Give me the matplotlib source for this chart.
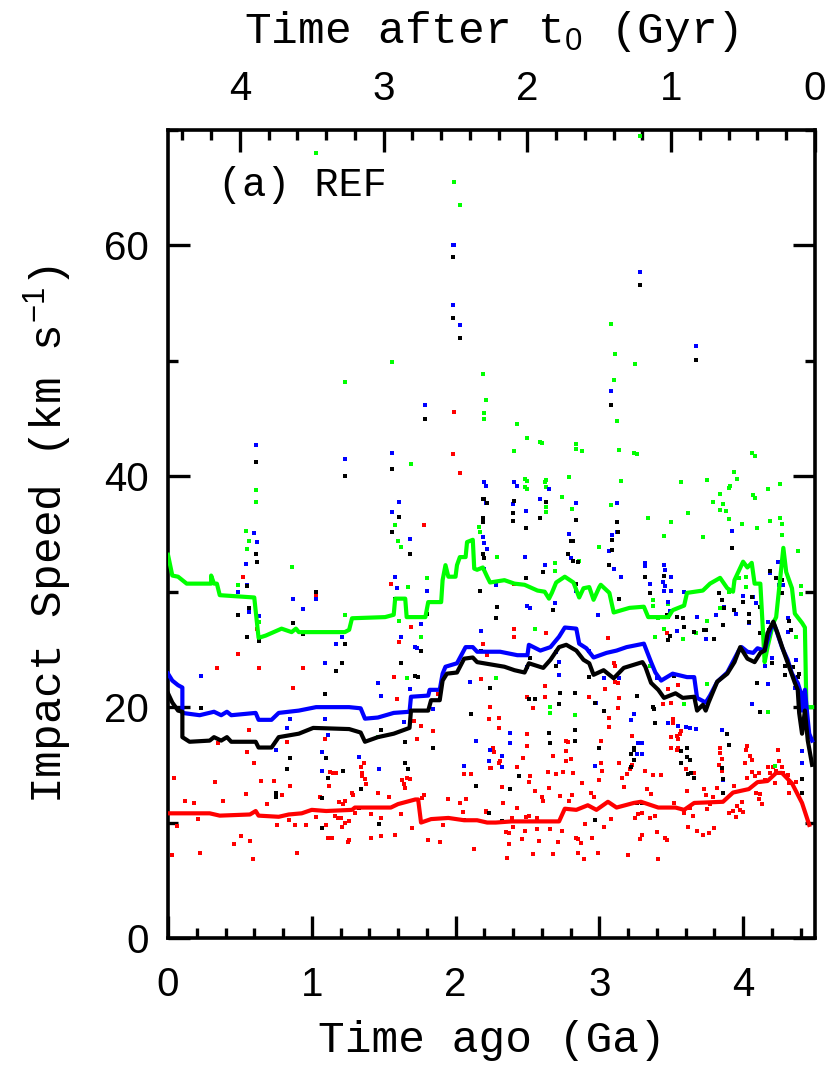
import matplotlib
matplotlib.use('Agg')
import matplotlib.pyplot as plt
from matplotlib import font_manager as fm
from matplotlib.ticker import FixedLocator, MultipleLocator


def pick_font(names):
    for name in names:
        try:
            fm.findfont(fm.FontProperties(family=name), fallback_to_default=False)
            return name
        except ValueError:
            pass
    return 'DejaVu Sans'


label_font = pick_font(['Liberation Mono', 'DejaVu Sans Mono'])
num_font = pick_font(['Liberation Sans Narrow', 'Liberation Sans', 'DejaVu Sans'])

plt.rcParams['font.family'] = [label_font, 'DejaVu Sans']
plt.rcParams['mathtext.fontset'] = 'custom'
plt.rcParams['mathtext.rm'] = num_font
plt.rcParams['mathtext.it'] = num_font

x_ticks = [0, 1, 2, 3, 4]
top_ticks = [0, 1, 2, 3, 4]
y_ticks = [0, 20, 40, 60]

# running medians (time ago in Ga, speed in km/s)
green_line = [(0.00, 33.2), (0.03, 31.4), (0.07, 31.3), (0.13, 30.7), (0.30, 30.7), (0.30, 31.4),
              (0.32, 30.7), (0.34, 30.7), (0.36, 29.7), (0.60, 29.5), (0.63, 26.0), (0.68, 26.2),
              (0.79, 26.8), (0.86, 26.5), (0.89, 26.8), (0.91, 26.5), (1.23, 26.5), (1.26, 26.7),
              (1.28, 27.7), (1.51, 27.8), (1.57, 28.0), (1.58, 29.4), (1.65, 29.4), (1.66, 27.8),
              (1.79, 27.8), (1.81, 29.1), (1.90, 29.1), (1.91, 31.0), (1.93, 32.3), (1.95, 31.3),
              (2.00, 31.3), (2.01, 32.3), (2.03, 33.0), (2.07, 33.0), (2.08, 34.3), (2.12, 34.5),
              (2.13, 32.0), (2.15, 31.9), (2.19, 32.1), (2.22, 31.3), (2.24, 30.8), (2.34, 31.0),
              (2.41, 30.7), (2.48, 30.6), (2.57, 30.1), (2.62, 30.0), (2.65, 29.4), (2.67, 29.9),
              (2.70, 30.8), (2.76, 31.3), (2.82, 30.8), (2.86, 29.5), (2.89, 30.3), (2.93, 30.4),
              (2.96, 29.3), (3.00, 30.4), (3.01, 30.6), (3.07, 29.9), (3.10, 28.2), (3.21, 28.6),
              (3.31, 28.7), (3.34, 27.8), (3.48, 27.8), (3.51, 28.4), (3.59, 28.8), (3.61, 29.9),
              (3.72, 30.1), (3.77, 30.7), (3.84, 31.2), (3.89, 30.3), (3.93, 30.0), (3.94, 31.0),
              (4.00, 32.6), (4.03, 32.1), (4.06, 32.5), (4.08, 30.7), (4.12, 30.7), (4.15, 23.9),
              (4.17, 25.2), (4.21, 27.3), (4.23, 27.8), (4.28, 33.8), (4.30, 31.7), (4.34, 30.3),
              (4.36, 28.1), (4.41, 27.3), (4.43, 26.9), (4.44, 20.0), (4.48, 20.0)]

blue_line = [(0.00, 22.9), (0.03, 22.3), (0.07, 21.9), (0.10, 21.7), (0.10, 19.5), (0.22, 19.3),
             (0.32, 19.6), (0.37, 19.3), (0.41, 19.6), (0.44, 19.3), (0.61, 19.5), (0.63, 18.9),
             (0.72, 18.9), (0.77, 19.5), (0.91, 19.7), (1.03, 20.0), (1.26, 20.0), (1.34, 19.9),
             (1.37, 19.0), (1.46, 19.1), (1.57, 19.5), (1.68, 19.6), (1.69, 20.9), (1.81, 21.0),
             (1.82, 21.5), (1.89, 21.5), (1.91, 22.9), (1.93, 23.5), (2.01, 23.8), (2.07, 25.2),
             (2.12, 25.2), (2.15, 24.8), (2.31, 24.8), (2.43, 24.5), (2.50, 24.5), (2.51, 25.4),
             (2.59, 24.9), (2.66, 25.2), (2.72, 26.1), (2.76, 26.9), (2.84, 26.8), (2.86, 25.5),
             (2.91, 25.1), (2.96, 24.3), (3.05, 24.7), (3.12, 24.9), (3.19, 25.2), (3.31, 25.5),
             (3.36, 23.9), (3.39, 23.0), (3.43, 22.3), (3.51, 22.9), (3.61, 22.6), (3.66, 22.6),
             (3.68, 20.8), (3.74, 20.4), (3.77, 21.0), (3.82, 22.2), (3.89, 23.0), (3.97, 24.9),
             (3.99, 25.2), (4.03, 24.8), (4.07, 24.7), (4.10, 25.1), (4.15, 24.9), (4.19, 26.7),
             (4.21, 27.3), (4.23, 26.7), (4.27, 25.2), (4.31, 24.1), (4.34, 22.9), (4.38, 22.1),
             (4.41, 20.9), (4.41, 19.7), (4.43, 21.5), (4.45, 18.9), (4.46, 17.7), (4.48, 17.1)]

black_line = [(0.00, 21.2), (0.03, 20.4), (0.07, 19.7), (0.10, 19.6), (0.10, 17.4), (0.15, 17.0),
              (0.29, 17.1), (0.32, 17.4), (0.37, 17.1), (0.41, 17.4), (0.44, 17.0), (0.61, 17.0),
              (0.63, 16.5), (0.72, 16.5), (0.77, 17.4), (0.91, 17.7), (1.01, 18.2), (1.26, 18.1),
              (1.34, 17.8), (1.37, 17.0), (1.46, 17.4), (1.57, 17.7), (1.68, 18.2), (1.69, 19.7),
              (1.81, 19.7), (1.83, 20.6), (1.89, 20.6), (1.91, 22.3), (1.94, 22.9), (2.01, 23.0),
              (2.06, 24.2), (2.12, 24.3), (2.15, 23.9), (2.34, 23.5), (2.41, 23.2), (2.48, 23.0),
              (2.51, 23.8), (2.61, 23.4), (2.66, 24.1), (2.72, 25.2), (2.77, 25.4), (2.84, 24.9),
              (2.89, 24.1), (2.93, 23.8), (2.96, 22.8), (3.03, 23.2), (3.10, 22.5), (3.17, 23.4),
              (3.30, 23.9), (3.32, 23.5), (3.36, 22.1), (3.41, 21.5), (3.45, 20.8), (3.53, 21.2),
              (3.58, 20.8), (3.66, 20.9), (3.68, 19.7), (3.72, 20.2), (3.74, 19.7), (3.76, 20.4),
              (3.82, 22.2), (3.89, 22.9), (3.94, 23.9), (3.98, 25.2), (4.03, 24.2), (4.08, 23.9),
              (4.12, 24.7), (4.15, 24.9), (4.17, 26.4), (4.21, 27.4), (4.24, 26.4), (4.28, 24.9),
              (4.32, 23.5), (4.36, 22.1), (4.38, 21.5), (4.39, 19.5), (4.41, 17.7), (4.43, 19.7),
              (4.45, 17.1), (4.48, 15.0)]

red_line = [(0.00, 10.8), (0.29, 10.8), (0.36, 10.6), (0.57, 10.7), (0.61, 11.0), (0.63, 10.6),
            (0.77, 10.5), (0.84, 10.7), (0.93, 10.8), (1.00, 11.1), (1.10, 11.0), (1.28, 11.1),
            (1.30, 11.3), (1.55, 11.3), (1.60, 11.6), (1.72, 12.0), (1.74, 12.0), (1.76, 10.0),
            (1.83, 10.3), (1.95, 10.4), (2.06, 10.2), (2.15, 10.2), (2.22, 10.0), (2.28, 10.0),
            (2.39, 10.1), (2.72, 10.1), (2.76, 11.2), (2.84, 11.1), (2.92, 11.5), (2.98, 11.1),
            (3.06, 11.8), (3.12, 11.3), (3.24, 11.7), (3.29, 11.8), (3.41, 11.3), (3.53, 11.3),
            (3.59, 11.1), (3.66, 11.7), (3.86, 11.8), (3.93, 12.6), (4.04, 12.9), (4.10, 13.5),
            (4.17, 13.6), (4.23, 14.3), (4.27, 14.3), (4.34, 13.4), (4.41, 11.7), (4.46, 9.8)]

# individual impacts
green_pts = [(1.03, 68.0), (1.99, 65.5), (2.03, 63.5), (3.28, 69.5), (3.08, 53.2), (3.11, 50.6),
             (3.25, 49.7), (3.10, 48.3), (3.12, 44.8), (3.14, 42.3), (3.26, 41.9), (1.56, 49.9),
             (1.23, 48.2), (2.19, 48.9), (2.21, 46.6), (2.20, 45.5), (2.20, 45.0), (2.43, 44.5),
             (2.50, 43.3), (2.60, 42.9), (2.41, 42.2), (2.84, 42.8), (2.88, 42.2), (0.61, 38.8),
             (0.61, 37.8), (1.69, 41.1), (4.08, 41.8), (3.57, 39.5), (3.75, 39.7), (3.96, 39.8),
             (3.90, 39.0), (3.88, 37.0), (3.90, 36.3), (3.86, 37.6), (4.08, 38.1), (4.17, 38.9),
             (4.26, 39.3), (3.15, 39.6), (2.79, 39.9), (2.50, 39.6), (2.50, 38.9), (2.62, 39.5),
             (2.59, 43.0), (2.84, 42.4), (3.24, 42.0), (4.06, 42.0), (3.94, 40.4), (2.48, 39.8),
             (2.48, 39.1), (2.63, 39.7), (2.63, 39.1), (2.74, 38.2), (2.63, 37.3), (2.63, 36.9),
             (2.81, 37.2), (3.08, 37.5), (3.84, 38.5), (3.84, 37.1), (3.79, 37.8), (4.07, 38.4),
             (3.91, 39.2), (3.62, 36.8), (3.50, 36.0), (3.34, 36.4), (3.45, 34.8), (3.72, 34.7),
             (3.99, 35.9), (4.10, 35.5), (4.19, 36.1), (4.26, 36.4), (4.27, 35.9), (4.27, 34.9),
             (4.38, 33.5), (4.40, 30.5), (4.40, 29.8), (4.43, 26.2), (2.16, 35.6), (2.29, 33.0),
             (2.55, 26.8), (2.69, 32.5), (2.69, 31.8), (2.86, 32.7), (3.00, 33.9), (3.37, 29.3),
             (3.37, 28.8), (3.41, 27.7), (3.45, 26.8), (3.39, 26.1), (3.58, 25.9), (3.48, 28.9),
             (3.67, 26.4), (3.75, 27.5), (3.84, 28.6), (3.90, 30.0), (3.97, 31.2), (4.02, 31.3),
             (4.02, 30.4), (4.17, 19.6), (4.37, 26.1), (2.28, 22.5), (2.66, 20.0), (2.66, 19.5),
             (2.83, 19.3), (3.35, 23.6), (3.59, 20.3), (3.75, 22.0), (4.22, 14.9), (0.54, 35.3),
             (0.56, 34.4), (0.55, 33.7), (0.49, 30.6), (0.63, 27.4), (0.86, 32.1), (1.23, 28.0),
             (1.58, 35.8), (1.60, 34.4), (1.62, 33.9), (1.67, 30.4), (1.62, 26.1), (1.61, 27.5),
             (1.66, 22.5), (1.76, 26.1), (1.80, 31.2), (1.46, 17.4), (2.17, 35.2)]

blue_pts = [(1.98, 60.0), (1.99, 60.0), (1.98, 54.8), (2.03, 53.1), (3.28, 57.7), (3.67, 51.3),
            (1.79, 46.2), (3.08, 47.4), (0.61, 42.7), (1.23, 41.5), (1.56, 42.0), (1.61, 37.8),
            (2.65, 38.9), (2.43, 39.2), (2.21, 39.2), (2.21, 37.7), (2.20, 39.5), (2.41, 39.5),
            (2.19, 38.0), (2.19, 34.7), (2.22, 33.7), (2.40, 37.6), (2.49, 37.0), (2.59, 38.0),
            (2.48, 33.0), (2.62, 32.3), (2.84, 37.7), (2.79, 35.0), (2.80, 32.9), (2.84, 30.1),
            (3.12, 37.7), (3.12, 35.2), (3.09, 34.9), (3.07, 33.5), (3.10, 32.0), (3.15, 31.3),
            (2.99, 28.0), (2.98, 20.4), (3.24, 19.4), (3.22, 18.9), (3.27, 16.9), (3.30, 16.9),
            (3.32, 32.5), (3.32, 32.2), (3.35, 30.7), (3.45, 32.3), (3.46, 31.9), (3.44, 30.8),
            (3.45, 30.1), (3.46, 30.5), (3.50, 30.1), (3.50, 31.3), (3.48, 29.1), (3.49, 28.3),
            (3.54, 26.6), (3.59, 30.0), (3.68, 27.8), (3.74, 25.9), (3.81, 28.0), (3.87, 28.7),
            (3.92, 35.3), (3.95, 28.1), (4.00, 29.6), (4.04, 27.3), (4.07, 29.5), (4.09, 29.0),
            (4.12, 26.4), (4.15, 23.6), (4.19, 31.6), (4.24, 32.6), (4.25, 30.6), (4.28, 30.6),
            (4.17, 27.4), (4.20, 24.3), (4.06, 20.3), (4.17, 22.0), (4.31, 27.7), (4.31, 26.5),
            (4.37, 24.1), (4.36, 21.7), (4.41, 16.2), (3.85, 14.7), (3.85, 18.0), (3.48, 18.6),
            (3.55, 18.4), (3.60, 18.3), (3.63, 18.2), (3.67, 18.1), (3.40, 22.5), (2.24, 16.3),
            (2.32, 15.8), (2.38, 17.8), (2.72, 22.8), (2.50, 28.8), (2.52, 28.6), (2.69, 29.0),
            (2.28, 30.6), (2.18, 26.6), (2.70, 24.8), (2.72, 23.9), (2.50, 23.5), (2.93, 24.9),
            (3.03, 22.5), (3.14, 22.5), (2.23, 15.3), (2.32, 14.8), (2.38, 16.9), (2.97, 14.9),
            (3.26, 15.9), (3.30, 15.9), (3.86, 13.7), (4.41, 15.2), (0.60, 35.1), (0.62, 34.3),
            (0.54, 32.4), (0.55, 30.6), (0.49, 30.0), (0.56, 28.2), (0.63, 27.9), (1.03, 29.4),
            (0.87, 29.4), (0.94, 28.5), (1.21, 26.1), (1.17, 25.5), (1.09, 23.8), (0.23, 22.7),
            (1.56, 36.9), (1.58, 31.3), (1.59, 30.3), (1.62, 26.1), (1.68, 34.6), (1.72, 25.2),
            (1.73, 25.1), (1.76, 27.2), (1.80, 30.1), (1.46, 22.1), (1.48, 21.0), (1.68, 21.6),
            (1.64, 18.7), (1.84, 19.8), (2.10, 22.2), (2.14, 17.1), (2.06, 14.9), (2.20, 32.0),
            (2.20, 34.2), (0.85, 19.0), (0.83, 18.2), (0.75, 16.3), (1.09, 19.0), (1.11, 17.6),
            (1.07, 16.1), (1.07, 14.5), (1.33, 15.7), (1.47, 14.6)]

black_pts = [(1.98, 59.0), (1.98, 53.7), (2.03, 52.0), (3.28, 56.6), (3.67, 50.1), (1.79, 45.0),
             (3.08, 46.2), (0.61, 41.2), (1.23, 40.0), (1.56, 40.6), (2.22, 37.7), (2.19, 38.0),
             (2.20, 38.0), (2.19, 36.4), (2.19, 33.3), (2.41, 37.9), (2.40, 36.8), (2.40, 36.1),
             (2.49, 35.5), (2.59, 36.4), (2.63, 37.8), (2.49, 31.2), (2.61, 31.7), (2.84, 36.2),
             (2.80, 34.4), (2.82, 34.4), (2.78, 33.3), (2.82, 32.7), (2.85, 32.6), (2.84, 30.7),
             (3.12, 36.0), (3.13, 35.2), (3.09, 33.6), (3.09, 34.5), (3.07, 32.3), (3.14, 29.4),
             (2.97, 20.4), (3.03, 19.7), (3.24, 16.5), (3.24, 16.3), (3.22, 15.9), (3.32, 31.3),
             (3.35, 29.9), (3.45, 31.4), (3.48, 27.8), (3.48, 25.8), (3.49, 26.2), (3.47, 28.0),
             (3.54, 27.8), (3.58, 27.7), (3.59, 26.9), (3.66, 26.5), (3.73, 26.7), (3.74, 26.7),
             (3.80, 25.9), (3.86, 27.1), (3.87, 28.6), (3.83, 29.9), (3.85, 29.3), (3.92, 33.8),
             (3.94, 28.4), (4.00, 29.1), (4.04, 28.1), (4.04, 27.4), (4.06, 29.5), (4.12, 28.7),
             (4.12, 26.4), (4.18, 26.7), (4.19, 31.8), (4.23, 31.2), (4.27, 31.0), (4.27, 29.9),
             (4.20, 23.8), (4.10, 22.1), (4.12, 19.6), (4.29, 23.6), (4.29, 22.8), (4.32, 27.5),
             (4.33, 26.7), (4.35, 23.5), (4.39, 22.9), (4.38, 22.6), (4.41, 21.2), (4.41, 13.8),
             (3.89, 17.7), (3.86, 13.8), (3.57, 16.2), (3.61, 15.7), (3.63, 15.4), (3.37, 20.0),
             (3.38, 19.8), (3.39, 18.6), (3.52, 22.7), (3.26, 21.0), (2.44, 14.0), (2.65, 17.8),
             (2.72, 20.3), (2.73, 21.2), (2.83, 18.0), (2.55, 20.7), (2.51, 20.7), (2.24, 21.7),
             (2.29, 28.7), (2.28, 27.7), (2.68, 28.4), (2.18, 24.9), (2.70, 23.6), (2.52, 24.3),
             (2.93, 22.6), (2.83, 21.2), (2.23, 10.8), (2.32, 10.1), (2.38, 12.9), (2.66, 16.9),
             (2.83, 17.1), (3.00, 16.5), (2.97, 10.2), (3.24, 15.4), (3.22, 14.8), (3.26, 11.7),
             (3.30, 11.7), (3.57, 15.2), (3.62, 14.2), (3.64, 14.3), (3.66, 13.9), (3.61, 16.5),
             (3.90, 16.7), (3.85, 14.7), (3.86, 12.6), (4.41, 12.6), (0.61, 33.3), (0.62, 32.6),
             (0.55, 30.5), (0.56, 28.6), (0.49, 28.0), (0.55, 26.1), (0.63, 25.7), (1.03, 30.0),
             (0.87, 27.3), (0.94, 26.3), (1.23, 25.5), (1.21, 23.8), (1.17, 23.1), (1.09, 21.1),
             (0.23, 19.9), (1.61, 36.5), (1.56, 35.2), (1.58, 29.4), (1.62, 23.8), (1.68, 33.3),
             (1.72, 22.7), (1.74, 22.6), (1.76, 24.9), (1.80, 28.1), (1.48, 18.0), (1.65, 17.0),
             (1.84, 16.5), (2.11, 19.4), (2.14, 13.2), (2.17, 30.1), (2.19, 36.0), (2.20, 32.9),
             (0.85, 15.6), (0.83, 14.6), (0.75, 12.6), (1.10, 15.6), (1.11, 13.9), (1.07, 12.1),
             (1.34, 12.9), (1.47, 9.9), (1.07, 9.5), (1.33, 11.3), (1.22, 14.5), (0.75, 12.2),
             (1.65, 15.2), (1.67, 14.6), (2.06, 10.2)]

red_pts = [(1.99, 45.6), (1.98, 41.9), (2.03, 40.3), (1.78, 35.8), (0.52, 31.3), (0.62, 26.8),
           (0.49, 24.6), (0.34, 23.4), (0.63, 23.4), (0.94, 23.4), (0.87, 21.7), (1.03, 29.7),
           (0.56, 18.0), (0.35, 16.9), (0.55, 16.1), (0.83, 17.0), (1.09, 17.2), (1.55, 30.7),
           (2.41, 30.7), (1.69, 26.9), (1.61, 25.6), (2.41, 26.1), (2.63, 26.4), (2.19, 25.5),
           (2.22, 24.5), (1.57, 22.6), (2.18, 22.4), (1.59, 20.7), (1.88, 21.1), (2.62, 20.9),
           (2.93, 20.9), (1.71, 18.8), (1.76, 18.4), (1.84, 17.9), (2.23, 19.0), (2.30, 18.2),
           (2.54, 19.9), (1.73, 17.2), (3.06, 26.0), (3.10, 23.8), (3.11, 23.6), (3.13, 22.1),
           (3.11, 22.2), (3.04, 21.6), (3.13, 19.9), (3.07, 18.3), (3.23, 17.5), (3.47, 26.4),
           (3.48, 21.6), (3.50, 20.4), (3.55, 21.9), (3.44, 20.3), (3.50, 17.4), (3.50, 16.5),
           (2.41, 26.8), (2.24, 20.0), (2.30, 19.1), (2.50, 17.7), (2.62, 21.8), (2.77, 17.1),
           (2.78, 17.0), (3.07, 19.1), (3.14, 20.8), (3.51, 19.0), (3.51, 18.6), (3.55, 17.2),
           (3.56, 17.7), (3.54, 17.5), (3.57, 17.9), (3.84, 16.5), (3.84, 16.0), (4.03, 16.6),
           (4.02, 16.3), (4.24, 16.3), (2.50, 20.9),
           (0.04, 13.9), (0.06, 9.7), (0.03, 7.2), (0.12, 11.9), (0.18, 11.7), (0.21, 10.3),
           (0.22, 7.4), (0.33, 13.5), (0.38, 11.9), (0.46, 8.1), (0.51, 8.8), (0.54, 12.5),
           (0.57, 8.4), (0.59, 6.8), (0.60, 15.2), (0.65, 13.6), (0.69, 11.6), (0.74, 13.6),
           (0.75, 12.6), (0.76, 9.8), (0.79, 12.4), (0.84, 10.2), (0.85, 13.2), (0.88, 9.8),
           (0.90, 7.4), (0.96, 9.8), (1.03, 10.5), (1.06, 12.2), (1.10, 9.8), (1.11, 8.7),
           (1.12, 13.2), (1.13, 14.4), (1.15, 14.3), (1.14, 8.7), (1.16, 10.6), (1.17, 14.3),
           (1.18, 10.4), (1.20, 10.4), (1.19, 11.8), (1.21, 9.6), (1.22, 11.6), (1.23, 11.9),
           (1.23, 10.0), (1.25, 8.3), (1.26, 8.5), (1.26, 10.1), (1.28, 12.6), (1.29, 12.4),
           (1.30, 10.8), (1.34, 14.8), (1.35, 14.3), (1.36, 15.2), (1.35, 14.0), (1.37, 13.8),
           (1.38, 13.3), (1.41, 10.7), (1.41, 8.7), (1.46, 12.6), (1.48, 10.4), (1.48, 8.8),
           (1.54, 12.2), (1.58, 8.9), (1.62, 10.7), (1.63, 13.7), (1.64, 13.3), (1.65, 13.0),
           (1.66, 13.9), (1.68, 13.8), (1.70, 9.5), (1.77, 12.1), (1.78, 12.4), (1.81, 8.5),
           (1.89, 8.3), (1.91, 9.8), (1.95, 12.0), (2.03, 11.7), (2.05, 10.9), (2.06, 14.2),
           (2.11, 14.2), (2.07, 12.0), (2.13, 7.7), (2.21, 10.9),
           (2.26, 16.5), (2.27, 16.1), (2.24, 14.7), (2.25, 14.7), (2.30, 15.2), (2.31, 15.3),
           (2.21, 11.0), (2.32, 13.1), (2.33, 11.7), (2.35, 9.2), (2.37, 9.1), (2.37, 8.1),
           (2.36, 6.9), (2.39, 10.4), (2.40, 9.6), (2.43, 14.8), (2.43, 11.3), (2.46, 8.6),
           (2.47, 15.6), (2.48, 9.3), (2.49, 10.5), (2.50, 16.6), (2.51, 13.5), (2.51, 10.6),
           (2.52, 14.0), (2.54, 7.3), (2.55, 12.7), (2.57, 10.4), (2.57, 9.4), (2.58, 8.4),
           (2.60, 12.2), (2.61, 11.9), (2.64, 14.4), (2.65, 13.0), (2.66, 9.4), (2.68, 15.8),
           (2.68, 7.3), (2.70, 14.2), (2.71, 8.3), (2.73, 12.3), (2.74, 9.3), (2.75, 14.4),
           (2.77, 16.2), (2.77, 15.3), (2.79, 11.9), (2.80, 15.5), (2.81, 12.4), (2.82, 14.3),
           (2.84, 8.7), (2.85, 8.6), (2.85, 7.4), (2.87, 8.2), (2.88, 13.4), (2.89, 6.8),
           (2.90, 9.9), (2.94, 12.6), (2.95, 8.7), (2.96, 12.2), (2.99, 7.4), (3.00, 13.7),
           (3.01, 15.2), (3.01, 17.1), (3.02, 14.5), (3.03, 9.6), (3.08, 10.3), (3.14, 15.2),
           (3.16, 13.9), (3.17, 13.1), (3.19, 14.2), (3.20, 7.2), (3.21, 14.6), (3.23, 15.0),
           (3.25, 10.4), (3.27, 10.7), (3.28, 8.6), (3.30, 8.9), (3.30, 10.8), (3.32, 14.5),
           (3.33, 12.9), (3.35, 10.4), (3.36, 12.5), (3.37, 14.1), (3.39, 10.6), (3.40, 9.2),
           (3.41, 6.8), (3.43, 14.1), (3.46, 8.7), (3.47, 8.5), (3.52, 11.7), (3.54, 16.3),
           (3.55, 16.5), (3.59, 10.8), (3.60, 14.6), (3.61, 12.7), (3.62, 9.6), (3.63, 11.3),
           (3.65, 10.6), (3.66, 14.3), (3.68, 9.3), (3.72, 8.9), (3.73, 12.9), (3.74, 12.4),
           (3.75, 11.2), (3.76, 9.1), (3.77, 11.6), (3.79, 12.2), (3.80, 9.5), (3.82, 13.0),
           (3.83, 15.0), (3.85, 15.5), (3.85, 14.5), (3.86, 12.6), (3.90, 10.8), (3.93, 11.0),
           (3.94, 13.2), (3.95, 10.5), (3.96, 11.4), (3.98, 11.1), (3.99, 11.8), (4.00, 10.9),
           (4.01, 15.2), (4.03, 13.9), (4.05, 15.8), (4.06, 15.4), (4.06, 14.4), (4.08, 14.0),
           (4.09, 12.6), (4.11, 14.3), (4.11, 12.0), (4.12, 12.5), (4.13, 11.6), (4.15, 13.7),
           (4.17, 14.8), (4.19, 14.3), (4.21, 14.8), (4.23, 14.5), (4.25, 15.3), (4.27, 14.8),
           (4.28, 14.3), (4.31, 14.1), (4.32, 13.4), (4.37, 13.5), (4.22, 13.4), (4.32, 12.6)]

series = {
    'red': (red_pts, red_line, '#ff0000'),
    'green': (green_pts, green_line, '#00ff00'),
    'blue': (blue_pts, blue_line, '#0000ff'),
    'black': (black_pts, black_line, '#000000'),
}

fig = plt.figure(figsize=(8.3, 10.71), dpi=100)
ax = fig.add_axes([0.2024, 0.1242, 0.7795, 0.7544])

for name in ['red', 'green', 'blue', 'black']:
    pts, line, col = series[name]
    px, py = zip(*pts)
    ax.plot(px, py, 's', ms=2.7, mew=0, color=col, zorder=2)

for name in ['green', 'blue', 'black', 'red']:
    pts, line, col = series[name]
    lx, ly = zip(*line)
    ax.plot(lx, ly, '-', lw=3.0, color=col, zorder=3)

ax.set_xlim(0, 4.5)
ax.set_ylim(0, 70)
# fixed locators: no hidden out-of-range tick labels
ax.xaxis.set_major_locator(FixedLocator(x_ticks))
ax.xaxis.set_minor_locator(MultipleLocator(0.2))
ax.yaxis.set_major_locator(FixedLocator(y_ticks))
ax.yaxis.set_minor_locator(MultipleLocator(10))
ax.tick_params(which='both', direction='in', top=False, right=True, width=2.4,
               labelsize=29, labelfontfamily=num_font)
ax.tick_params(axis='x', pad=20)
ax.tick_params(axis='y', pad=14)
ax.tick_params(which='major', length=16)
ax.tick_params(which='minor', length=7.5)
for sp in ax.spines.values():
    sp.set_linewidth(2.6)

ax.set_xlabel('Time ago (Ga)', fontsize=32)
ax.xaxis.set_label_coords(0.5, -0.127)
ax.xaxis.label.set_va('center')
ax.set_ylabel('Impact Speed (km s$^{-1}$)', fontsize=32)
ax.yaxis.set_label_coords(-0.186, 0.5)
ax.yaxis.label.set_va('center')

top = ax.secondary_xaxis('top', functions=(lambda t: 4.5 - t, lambda t: 4.5 - t))
top.xaxis.set_major_locator(FixedLocator(top_ticks))
top.xaxis.set_minor_locator(MultipleLocator(0.2))
top.tick_params(which='both', direction='in', width=2.4, labelsize=29,
                labelfontfamily=num_font, pad=16)
top.tick_params(which='major', length=16)
top.tick_params(which='minor', length=7.5)

fig.text(0.592, 0.971, 'Time after t$_0$ (Gyr)', fontsize=32, ha='center', va='center')

ax.text(0.345, 65.2, '(a) REF', fontsize=29, ha='left', va='center')

fig.savefig('out.png', dpi=100)
